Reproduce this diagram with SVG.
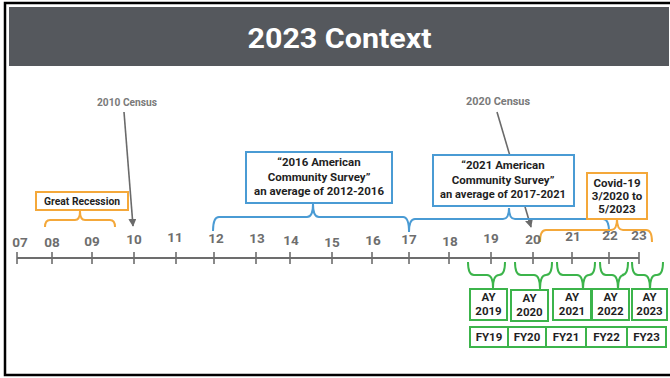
<svg xmlns="http://www.w3.org/2000/svg" width="670" height="378" viewBox="0 0 670 378">
<defs>
<style>
.yr{font-family:Roboto,"Liberation Sans",sans-serif;font-weight:700;font-size:13.5px;fill:#6e6e6e;text-anchor:middle}
.lbl{font-family:Roboto,"Liberation Sans",sans-serif;font-weight:700;font-size:11.5px;fill:#1f1f1f;text-anchor:middle}
.cen{font-family:Roboto,"Liberation Sans",sans-serif;font-weight:700;font-size:11px;fill:#7a7a7a;text-anchor:middle}
.org{fill:#fff;stroke:#f4a83a;stroke-width:2}
.blu{fill:#fff;stroke:#4a9bd4;stroke-width:2}
.grn{fill:#fff;stroke:#3cb44b;stroke-width:2}
.bo{fill:none;stroke:#f4a83a;stroke-width:2}
.bb{fill:none;stroke:#4a9bd4;stroke-width:2}
.bg{fill:none;stroke:#3cb44b;stroke-width:2}
.arr{stroke:#6a6a6a;stroke-width:1.6;fill:none}
</style>
<marker id="ah" viewBox="0 0 10 10" refX="9" refY="5" markerWidth="5" markerHeight="5" orient="auto">
<path d="M0,0 L10,5 L0,10 z" fill="#6a6a6a"/>
</marker>
</defs>
<rect x="5" y="3" width="700" height="372" fill="#fff" stroke="#000" stroke-width="2.5"/>
<g id="header">
<rect x="9" y="7" width="660" height="59" fill="#55585d"/>
<text x="339.5" y="48" font-family="Roboto,'Liberation Sans',sans-serif" font-weight="700" font-size="28" fill="#fff" text-anchor="middle" textLength="184" lengthAdjust="spacingAndGlyphs">2023 Context</text>
</g>
<g id="connectors">
<line x1="17" y1="258" x2="639" y2="258" stroke="#6d6d6d" stroke-width="2"/>
<g stroke="#6d6d6d" stroke-width="1.6">
<line x1="17" y1="252" x2="17" y2="264"/><line x1="52" y1="252" x2="52" y2="264"/><line x1="92" y1="252" x2="92" y2="264"/><line x1="134" y1="252" x2="134" y2="264"/><line x1="176" y1="252" x2="176" y2="264"/><line x1="214" y1="252" x2="214" y2="264"/><line x1="256" y1="252" x2="256" y2="264"/><line x1="290" y1="252" x2="290" y2="264"/><line x1="332" y1="252" x2="332" y2="264"/><line x1="372" y1="252" x2="372" y2="264"/><line x1="409" y1="252" x2="409" y2="264"/><line x1="449" y1="252" x2="449" y2="264"/><line x1="491" y1="252" x2="491" y2="264"/><line x1="533" y1="252" x2="533" y2="264"/><line x1="572" y1="252" x2="572" y2="264"/><line x1="609" y1="252" x2="609" y2="264"/><line x1="639" y1="252" x2="639" y2="264"/>
</g>
<line class="arr" x1="124" y1="112" x2="133" y2="226" marker-end="url(#ah)"/>
<line class="arr" x1="497" y1="112" x2="531" y2="227" marker-end="url(#ah)"/>
<path class="bo" d="M45,227 Q45,220 50,220 L75,220 Q80,220 80,211 Q80,220 85,220 L110,220 Q115,220 115,227"/>
<path class="bb" d="M213,231 Q213,217 219,217 L307,217 Q313,217 313,204 Q313,217 319,217 L403,217 Q409,217 409,232"/>
<path class="bb" d="M409,232 Q409,219 415,219 L503,219 Q509,219 509,208 Q509,219 515,219 L603,219 Q609,219 609,232"/>
<path class="bo" d="M540,242 Q540,230 546,230 L611,230 Q617,230 617,219 Q617,230 623,230 L646,230 Q652,230 652,242"/>
<path class="bg" d="M468,262 Q468,275 474,275 L487,275 Q493,275 493,288 Q493,275 499,275 L499,275 Q505,275 505,262"/>
<path class="bg" d="M515,262 Q515,275 521,275 L534,275 Q540,275 540,289 Q540,275 546,275 L546,275 Q552,275 552,262"/>
<path class="bg" d="M557,262 Q557,275 563,275 L577,275 Q583,275 583,289 Q583,275 589,275 L589,275 Q595,275 595,262"/>
<path class="bg" d="M600,262 Q600,275 606,275 L612,275 Q618,275 618,289 Q618,275 624,275 L622,275 Q628,275 628,262"/>
<path class="bg" d="M632,262 Q632,275 638,275 L644,275 Q650,275 650,289 Q650,275 656,275 L657,275 Q663,275 663,262"/>
</g>
<g id="years">
<text class="yr" x="20" y="247">07</text><text class="yr" x="52" y="247">08</text><text class="yr" x="92" y="246">09</text><text class="yr" x="134" y="244">10</text><text class="yr" x="175" y="242">11</text><text class="yr" x="216" y="243">12</text><text class="yr" x="257" y="243">13</text><text class="yr" x="291" y="245">14</text><text class="yr" x="332" y="247">15</text><text class="yr" x="373" y="245">16</text><text class="yr" x="409" y="244">17</text><text class="yr" x="450" y="246">18</text><text class="yr" x="491" y="243">19</text><text class="yr" x="533" y="244">20</text><text class="yr" x="573" y="241">21</text><text class="yr" x="610" y="240">22</text><text class="yr" x="639" y="240">23</text>
</g>
<g id="census2010"><text class="cen" x="127" y="106" textLength="60" lengthAdjust="spacingAndGlyphs">2010 Census</text></g>
<g id="census2020"><text class="cen" x="498" y="105" textLength="64" lengthAdjust="spacingAndGlyphs">2020 Census</text></g>
<g id="recession">
<rect class="org" x="36" y="192" width="92" height="18"/>
<text class="lbl" x="82" y="205" textLength="76" lengthAdjust="spacingAndGlyphs">Great Recession</text>
</g>
<g id="acs2016">
<rect class="blu" x="246" y="152" width="146" height="51"/>
<text class="lbl" x="319" y="166">“2016 American</text>
<text class="lbl" x="319" y="181">Community Survey”</text>
<text class="lbl" x="319" y="195" textLength="130" lengthAdjust="spacingAndGlyphs">an average of 2012-2016</text>
</g>
<g id="acs2021">
<rect class="blu" x="433" y="155" width="141" height="51"/>
<text class="lbl" x="503" y="169">“2021 American</text>
<text class="lbl" x="503" y="184">Community Survey”</text>
<text class="lbl" x="503" y="198" textLength="126" lengthAdjust="spacingAndGlyphs">an average of 2017-2021</text>
</g>
<g id="covid">
<rect class="org" x="587" y="173" width="60" height="46"/>
<text class="lbl" x="617" y="187">Covid-19</text>
<text class="lbl" x="617" y="200">3/2020 to</text>
<text class="lbl" x="617" y="213">5/2023</text>
</g>
<g id="ay">
<rect class="grn" x="470" y="289" width="37" height="31"/>
<text class="lbl" x="488.5" y="301">AY</text><text class="lbl" x="488.5" y="315">2019</text>
<rect class="grn" x="511" y="290" width="37" height="31"/>
<text class="lbl" x="529.5" y="302">AY</text><text class="lbl" x="529.5" y="316">2020</text>
<rect class="grn" x="553" y="289" width="38" height="31"/>
<text class="lbl" x="572" y="301">AY</text><text class="lbl" x="572" y="315">2021</text>
<rect class="grn" x="592" y="289" width="37" height="31"/>
<text class="lbl" x="610.5" y="301">AY</text><text class="lbl" x="610.5" y="315">2022</text>
<rect class="grn" x="632" y="289" width="35" height="31"/>
<text class="lbl" x="649.5" y="301">AY</text><text class="lbl" x="649.5" y="315">2023</text>
</g>
<g id="fy">
<rect class="grn" x="470" y="327" width="38" height="20"/><text class="lbl" x="489" y="341">FY19</text>
<rect class="grn" x="508" y="327" width="38" height="20"/><text class="lbl" x="527" y="341">FY20</text>
<rect class="grn" x="546" y="327" width="40" height="20"/><text class="lbl" x="566" y="341">FY21</text>
<rect class="grn" x="586" y="327" width="41" height="20"/><text class="lbl" x="606.5" y="341">FY22</text>
<rect class="grn" x="627" y="327" width="39" height="20"/><text class="lbl" x="646.5" y="341">FY23</text>
</g>
</svg>
